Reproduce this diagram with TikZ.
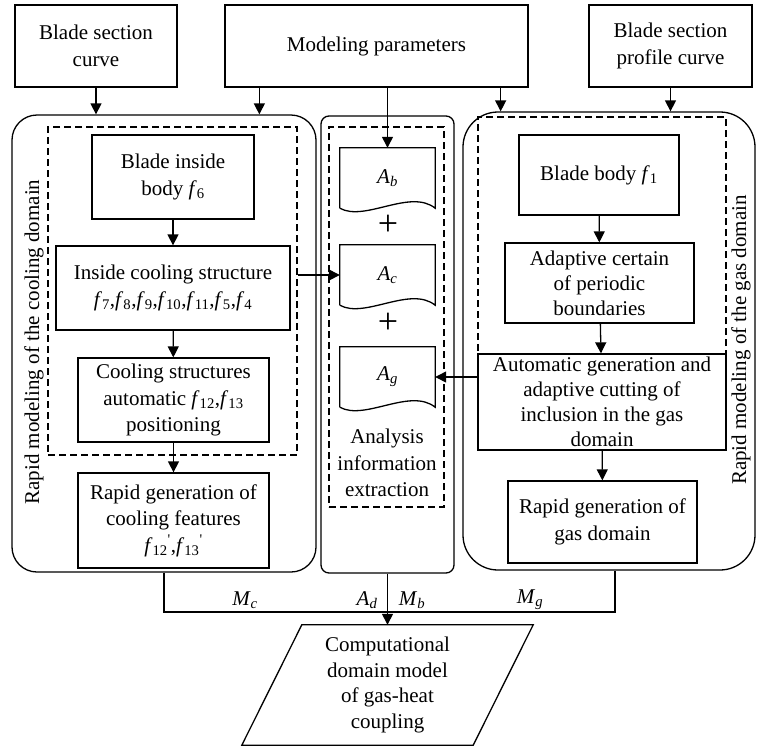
\documentclass[tikz,border=0pt]{standalone}
\usepackage{fontspec}
\setmainfont{Liberation Serif}
\usetikzlibrary{arrows.meta,calc}

\newcommand{\sym}[2]{\textit{#1}\textsubscript{#2}}
% page with a wavy lower edge around a named node
\newcommand{\docoutline}[1]{%
  \draw[line] (#1.south west) -- (#1.north west) -- (#1.north east) -- (#1.south east)
    .. controls ($(#1.south east)+(-25pt,20pt)$) and ($(#1.south west)+(25pt,-14pt)$) .. (#1.south west);}

\begin{document}
\begin{tikzpicture}[x=1pt,y=-1pt,
  line/.style={line width=1.3pt},
  arr/.style={line,-{Triangle[length=11pt,width=11pt]}},
  box/.style={draw,line,align=center,inner sep=0pt},
  group/.style={draw,line,rounded corners=#1},
  dbox/.style={draw,line,dash pattern=on 7pt off 4pt},
  doc/.style={minimum width=95pt,minimum height=60pt,inner sep=0pt},
  tight/.style={font=\fontsize{21}{25}\selectfont},
  every node/.style={font=\fontsize{21}{26.5}\selectfont}]
\useasboundingbox (0,0) rectangle (758,748);

% inputs
\node[box,minimum width=162pt,minimum height=82pt] (secc) at (96,46) {Blade section\\curve};
\node[box,minimum width=303pt,minimum height=82pt] (mpar) at (376.5,46) {Modeling parameters};
\node[box,minimum width=163pt,minimum height=82pt] (prof) at (670.5,46) {Blade section\\profile curve};

% cooling domain
\node[group=25pt,minimum width=304pt,minimum height=457pt] (lcool) at (164,343.5) {};
\node[dbox,minimum width=249pt,minimum height=328pt] (ldash) at (172.5,291) {};
\node[rotate=90] (lcap) at (34,342) {Rapid modeling of the cooling domain};
\node[box,minimum width=162pt,minimum height=84pt] (inbody) at (173,177) {Blade inside\\body \sym{f}{6}};
\node[box,minimum width=234pt,minimum height=84pt] (incool) at (173,288) {Inside cooling structure\\\sym{f}{7},\sym{f}{8},\sym{f}{9},\sym{f}{10},\sym{f}{11},\sym{f}{5},\sym{f}{4}};
\node[box,minimum width=191pt,minimum height=84pt] (cpos) at (173.5,400) {Cooling structures\\automatic \sym{f}{12},\sym{f}{13}\\positioning};
\node[box,minimum width=191pt,minimum height=95pt] (cfeat) at (173.5,520.5) {Rapid generation of\\cooling features\\\sym{f}{12}\textsuperscript{\textquotesingle},\sym{f}{13}\textsuperscript{\textquotesingle}};

% analysis information
\node[group=8pt,minimum width=133pt,minimum height=457pt] (mbox) at (387.5,344.5) {};
\node[dbox,minimum width=115pt,minimum height=380pt] (mdash) at (386.5,317) {};
\node[doc] (ab) at (387.5,178) {\sym{A}{\textit{b}}};
\node[doc] (ac) at (387.5,275) {\sym{A}{\textit{c}}};
\node[doc] (ag) at (387.5,377) {\sym{A}{\textit{g}}};
\docoutline{ab}
\docoutline{ac}
\docoutline{ag}
\node[font=\fontsize{36}{36}\selectfont] (plus1) at (388,225) {+};
\node[font=\fontsize{36}{36}\selectfont] (plus2) at (388,323) {+};
\node[align=center] (anal) at (387,463) {Analysis\\information\\extraction};

% gas domain
\node[group=35pt,minimum width=292pt,minimum height=458pt] (rbox) at (609,341) {};
\node[dbox,minimum width=248pt,minimum height=333pt] (rdash) at (602,283.5) {};
\node[rotate=90] (rcap) at (741,340) {Rapid modeling of the gas domain};
\node[box,minimum width=160pt,minimum height=80pt] (body) at (599,175) {Blade body \sym{f}{1}};
\node[box,tight,minimum width=189pt,minimum height=80pt] (adapt) at (599.5,283) {Adaptive certain\\of periodic\\boundaries};
\node[box,tight,minimum width=248pt,minimum height=96pt] (autog) at (602,402) {Automatic generation and\\adaptive cutting of\\inclusion in the gas\\domain};
\node[box,minimum width=189pt,minimum height=82pt] (rgas) at (602.5,522) {Rapid generation of\\gas domain};

% output
\node[align=center,font=\fontsize{21}{25.7}\selectfont,minimum width=231pt,minimum height=120pt,inner sep=0pt] (outp) at (387.5,685) {Computational\\domain model\\of gas-heat\\coupling};
\draw[line] ([xshift=30pt]outp.north west) -- ([xshift=30pt]outp.north east) -- ([xshift=-30pt]outp.south east) -- ([xshift=-30pt]outp.south west) -- cycle;

\draw[arr] (secc.south) -- (secc.south |- lcool.north);
\draw[arr] ([xshift=35pt]mpar.south west) -- ([xshift=35pt]mpar.south west |- lcool.north);
\draw[arr] (ab.north |- mpar.south) -- (ab.north);
\draw[arr] ([xshift=-28pt]mpar.south east) -- ([xshift=-28pt]mpar.south east |- rbox.north);
\draw[arr] (prof.south) -- (prof.south |- rbox.north);

\draw[arr] (inbody) -- (incool);
\draw[arr] (incool) -- (cpos);
\draw[arr] (cpos) -- (cfeat);
\draw[arr] (ldash.east |- ac.west) -- (ac.west);

\draw[arr] (body) -- (adapt);
\draw[arr] (adapt) -- (autog);
\draw[arr] (autog) -- (rgas);
\draw[arr] (autog.west |- ag.east) -- (ag.east);

\coordinate (mjoin) at (387.5,612);
\draw[line] (lcool.south) |- (mjoin) -| ([xshift=6pt]rbox.south);
\draw[arr] (mbox.south) -- (outp.north);
\node (mc) at (245,600) {\sym{M}{\textit{c}}};
\node (ad) at (367,600) {\sym{A}{\textit{d}}};
\node (mb) at (412,600) {\sym{M}{\textit{b}}};
\node (mg) at (530,600) {\sym{M}{\textit{g}}};
\end{tikzpicture}
\end{document}
